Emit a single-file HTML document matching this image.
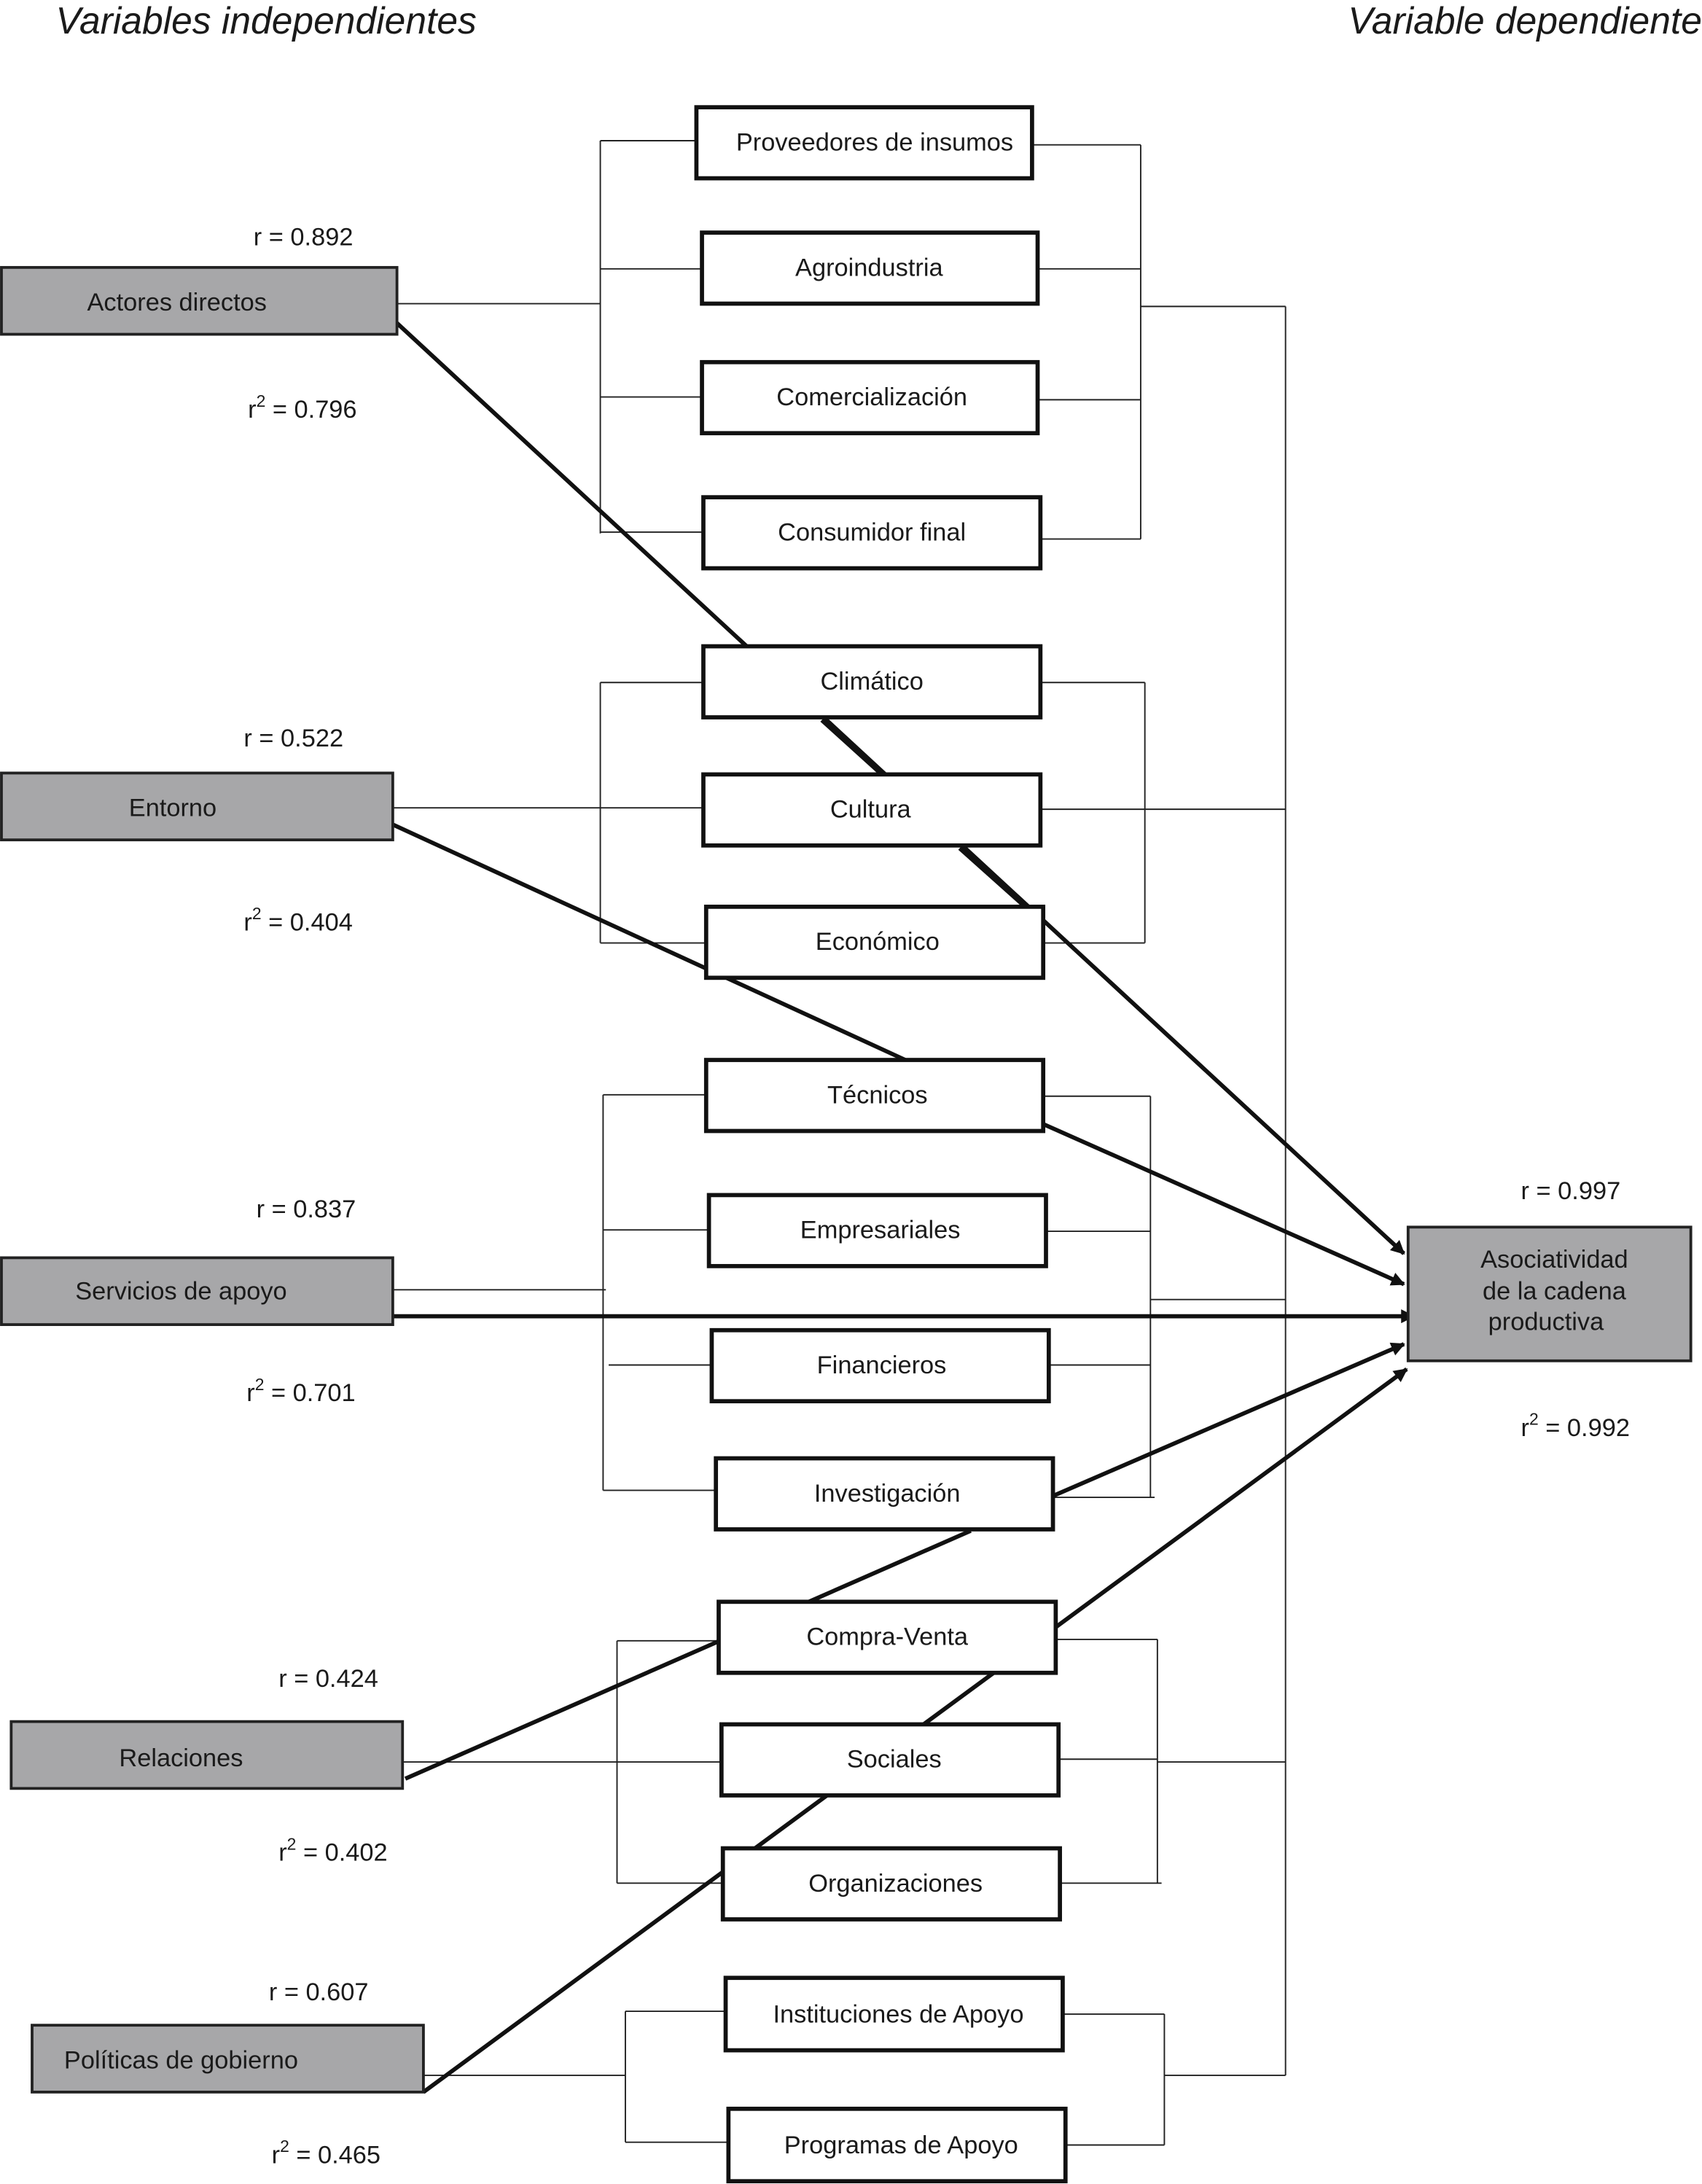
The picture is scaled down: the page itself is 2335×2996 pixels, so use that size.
<!DOCTYPE html>
<html><head><meta charset="utf-8"><style>
html,body{margin:0;padding:0;background:#fff;}
svg{display:block;}
text{font-family:"Liberation Sans",Arial,sans-serif;fill:#1a1a1a;}
</style></head><body>
<svg width="2335" height="2996" viewBox="0 0 1222 1568" xmlns="http://www.w3.org/2000/svg">
<defs>
<marker id="ah" markerWidth="10" markerHeight="10" refX="9" refY="5" orient="auto" markerUnits="userSpaceOnUse" viewBox="0 0 10 10">
<path d="M0,0 L10,5 L0,10 z" fill="#111"/>
</marker>
</defs>
<rect width="1222" height="1568" fill="#fff"/>
<text x="40" y="24" font-size="27" font-style="italic">Variables independientes</text>
<text x="1222" y="24" font-size="27" font-style="italic" text-anchor="end">Variable dependiente</text>

<g stroke="#222" stroke-width="1" fill="none">
<!-- group1 -->
<line x1="431" y1="101" x2="431" y2="383"/>
<line x1="431" y1="101" x2="500" y2="101"/>
<line x1="431" y1="193" x2="504" y2="193"/>
<line x1="431" y1="285" x2="504" y2="285"/>
<line x1="431" y1="382" x2="505" y2="382"/>
<line x1="285" y1="218" x2="431" y2="218"/>
<line x1="819" y1="104" x2="819" y2="387"/>
<line x1="741" y1="104" x2="819" y2="104"/>
<line x1="745" y1="193" x2="819" y2="193"/>
<line x1="745" y1="287" x2="819" y2="287"/>
<line x1="747" y1="387" x2="819" y2="387"/>
<line x1="819" y1="220" x2="923" y2="220"/>
<line x1="923" y1="220" x2="923" y2="1490"/>
<!-- group2 -->
<line x1="431" y1="490" x2="431" y2="677"/>
<line x1="431" y1="490" x2="505" y2="490"/>
<line x1="431" y1="677" x2="507" y2="677"/>
<line x1="282" y1="580" x2="505" y2="580"/>
<line x1="822" y1="490" x2="822" y2="677"/>
<line x1="747" y1="490" x2="822" y2="490"/>
<line x1="749" y1="677" x2="822" y2="677"/>
<line x1="747" y1="581" x2="923" y2="581"/>
<!-- group3 -->
<line x1="433" y1="786" x2="433" y2="1070"/>
<line x1="433" y1="786" x2="507" y2="786"/>
<line x1="433" y1="883" x2="509" y2="883"/>
<line x1="437" y1="980" x2="511" y2="980"/>
<line x1="433" y1="1070" x2="514" y2="1070"/>
<line x1="282" y1="926" x2="435" y2="926"/>
<line x1="826" y1="787" x2="826" y2="1075"/>
<line x1="749" y1="787" x2="826" y2="787"/>
<line x1="751" y1="884" x2="826" y2="884"/>
<line x1="753" y1="980" x2="826" y2="980"/>
<line x1="756" y1="1075" x2="829" y2="1075"/>
<line x1="826" y1="933" x2="923" y2="933"/>
<!-- group4 -->
<line x1="443" y1="1178" x2="443" y2="1352"/>
<line x1="443" y1="1178" x2="516" y2="1178"/>
<line x1="289" y1="1265" x2="518" y2="1265"/>
<line x1="443" y1="1352" x2="519" y2="1352"/>
<line x1="831" y1="1177" x2="831" y2="1352"/>
<line x1="758" y1="1177" x2="831" y2="1177"/>
<line x1="760" y1="1263" x2="831" y2="1263"/>
<line x1="761" y1="1352" x2="834" y2="1352"/>
<line x1="831" y1="1265" x2="923" y2="1265"/>
<!-- group5 -->
<line x1="449" y1="1444" x2="449" y2="1538"/>
<line x1="449" y1="1444" x2="521" y2="1444"/>
<line x1="449" y1="1538" x2="523" y2="1538"/>
<line x1="304" y1="1490" x2="449" y2="1490"/>
<line x1="836" y1="1446" x2="836" y2="1540"/>
<line x1="763" y1="1446" x2="836" y2="1446"/>
<line x1="765" y1="1540" x2="836" y2="1540"/>
<line x1="836" y1="1490" x2="923" y2="1490"/>
</g>

<g stroke="#111" stroke-width="3" fill="none">
<line x1="285" y1="232" x2="1008" y2="900" marker-end="url(#ah)"/>
<line x1="282" y1="592" x2="650" y2="761"/>
<line x1="749" y1="807" x2="1008" y2="922" marker-end="url(#ah)"/>
<line x1="282" y1="945" x2="1015" y2="945" marker-end="url(#ah)"/>
<line x1="756" y1="1074" x2="1008" y2="965" marker-end="url(#ah)"/>
<line x1="291" y1="1277" x2="697" y2="1099"/>
<line x1="304" y1="1502" x2="1010" y2="983" marker-end="url(#ah)"/>
</g>

<g stroke="#111" stroke-width="3" fill="#fff">
<rect x="500" y="77" width="241" height="51"/>
<rect x="504" y="167" width="241" height="51"/>
<rect x="504" y="260" width="241" height="51"/>
<rect x="505" y="357" width="242" height="51"/>
<rect x="505" y="464" width="242" height="51"/>
<rect x="505" y="556" width="242" height="51"/>
<rect x="507" y="651" width="242" height="51"/>
<rect x="507" y="761" width="242" height="51"/>
<rect x="509" y="858" width="242" height="51"/>
<rect x="511" y="955" width="242" height="51"/>
<rect x="514" y="1047" width="242" height="51"/>
<rect x="516" y="1150" width="242" height="51"/>
<rect x="518" y="1238" width="242" height="51"/>
<rect x="519" y="1327" width="242" height="51"/>
<rect x="521" y="1420" width="242" height="52"/>
<rect x="523" y="1514" width="242" height="52"/>
</g>
<!-- redraw segments that pass over boxes -->
<g stroke="#111" stroke-width="3">
<line x1="590" y1="517" x2="632" y2="555"/>
<line x1="689" y1="609" x2="736" y2="651"/>
<line x1="520" y1="702" x2="650" y2="761" stroke-width="0"/>
</g>
<g font-size="18" text-anchor="middle">
<text x="628" y="108">Proveedores de insumos</text>
<text x="624" y="198">Agroindustria</text>
<text x="626" y="291">Comercialización</text>
<text x="626" y="388">Consumidor final</text>
<text x="626" y="495">Climático</text>
<text x="625" y="587">Cultura</text>
<text x="630" y="682">Económico</text>
<text x="630" y="792">Técnicos</text>
<text x="632" y="889">Empresariales</text>
<text x="633" y="986">Financieros</text>
<text x="637" y="1078">Investigación</text>
<text x="637" y="1181">Compra-Venta</text>
<text x="642" y="1269">Sociales</text>
<text x="643" y="1358">Organizaciones</text>
<text x="645" y="1452">Instituciones de Apoyo</text>
<text x="647" y="1546">Programas de Apoyo</text>
</g>

<g stroke="#222" stroke-width="2" fill="#a7a7a9">
<rect x="1" y="192" width="284" height="48"/>
<rect x="1" y="555" width="281" height="48"/>
<rect x="1" y="903" width="281" height="48"/>
<rect x="8" y="1236" width="281" height="48"/>
<rect x="23" y="1454" width="281" height="48"/>
<rect x="1011" y="881" width="203" height="96"/>
</g>
<g font-size="18">
<text x="127" y="223" text-anchor="middle">Actores directos</text>
<text x="124" y="586" text-anchor="middle">Entorno</text>
<text x="130" y="933" text-anchor="middle">Servicios de apoyo</text>
<text x="130" y="1268" text-anchor="middle">Relaciones</text>
<text x="130" y="1485" text-anchor="middle">Políticas de gobierno</text>
<text x="1116" y="910" text-anchor="middle">Asociatividad</text>
<text x="1116" y="933" text-anchor="middle">de la cadena</text>
<text x="1110" y="955" text-anchor="middle">productiva</text>

<text x="182" y="176">r = 0.892</text>
<text x="178" y="300">r<tspan font-size="12" dy="-8">2</tspan><tspan dy="8"> = 0.796</tspan></text>
<text x="175" y="536">r = 0.522</text>
<text x="175" y="668">r<tspan font-size="12" dy="-8">2</tspan><tspan dy="8"> = 0.404</tspan></text>
<text x="184" y="874">r = 0.837</text>
<text x="177" y="1006">r<tspan font-size="12" dy="-8">2</tspan><tspan dy="8"> = 0.701</tspan></text>
<text x="200" y="1211">r = 0.424</text>
<text x="200" y="1336">r<tspan font-size="12" dy="-8">2</tspan><tspan dy="8"> = 0.402</tspan></text>
<text x="193" y="1436">r = 0.607</text>
<text x="195" y="1553">r<tspan font-size="12" dy="-8">2</tspan><tspan dy="8"> = 0.465</tspan></text>
<text x="1092" y="861">r = 0.997</text>
<text x="1092" y="1031">r<tspan font-size="12" dy="-8">2</tspan><tspan dy="8"> = 0.992</tspan></text>
</g>
</svg>
</body></html>
